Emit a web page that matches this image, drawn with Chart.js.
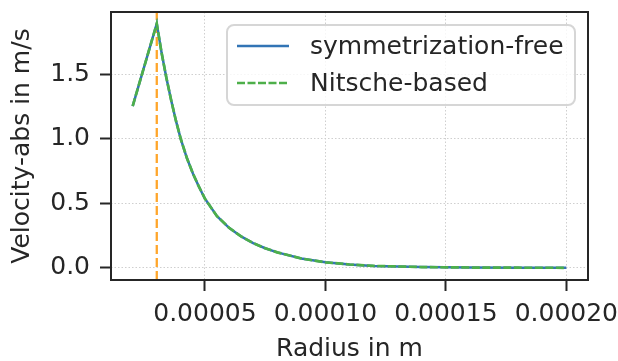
<!DOCTYPE html>
<html>

<head>
    <title>Velocity-abs vs Radius</title>
    <script src="https://cdn.jsdelivr.net/npm/chart.js"></script>
    <style>
        body {
            margin: 0;
            background: #ffffff;
        }
    </style>
</head>

<body>
    <canvas id="velocity-chart" width="618" height="361"></canvas>

    <script>
        // values
        const radius = [0.000020, 0.000030, 0.000032, 0.000034, 0.000036, 0.000038, 0.000040, 0.0000425,
            0.000045, 0.0000475, 0.000050, 0.000055, 0.000060, 0.000065, 0.000070, 0.000075, 0.000080,
            0.000090, 0.000100, 0.000110, 0.000120, 0.000140, 0.000160, 0.000180, 0.000200];
        const velSymFree = [1.252, 1.89, 1.664, 1.47, 1.295, 1.135, 0.995, 0.85,
            0.73, 0.628, 0.535, 0.40, 0.31, 0.243, 0.192, 0.152, 0.12,
            0.072, 0.043, 0.026, 0.015, 0.006, 0.0025, 0.001, 0.0005];
        const velNitsche = [1.252, 1.89, 1.664, 1.47, 1.295, 1.135, 0.995, 0.85,
            0.73, 0.628, 0.535, 0.40, 0.31, 0.243, 0.192, 0.152, 0.12,
            0.072, 0.043, 0.026, 0.015, 0.006, 0.0025, 0.001, 0.0005];
        const peakRadius = [0.00003];
        const xTicks = [0.00005, 0.00010, 0.00015, 0.00020];
        const yTicks = [0.0, 0.5, 1.0, 1.5];
        const xMin = 0.000011, xMax = 0.000209;
        const yMin = -0.094, yMax = 1.98;

        const textColor = '#262626';
        const fontFamily = "'DejaVu Sans', sans-serif";

        function toPoints(xs, ys) {
            return xs.map((x, i) => ({ x: x, y: ys[i] }));
        }

        // frame round the plot area (all four spines)
        const frame = {
            id: 'frame',
            afterDatasetsDraw(chart) {
                const { ctx, chartArea: a } = chart;
                ctx.save();
                ctx.strokeStyle = textColor;
                ctx.lineWidth = 2;
                ctx.strokeRect(a.left, a.top, a.right - a.left, a.bottom - a.top);
                ctx.restore();
            }
        };

        // matplotlib style legend box in the upper right corner
        const legendBox = {
            id: 'legendBox',
            afterDraw(chart) {
                const { ctx, chartArea: a } = chart;
                const items = chart.data.datasets.filter((d) => d.label);
                const w = 348, h = 80, r = 7;
                const x = a.right - 13 - w;
                const y = a.top + 13;
                ctx.save();
                ctx.beginPath();
                ctx.roundRect(x, y, w, h, r);
                ctx.fillStyle = 'rgba(255,255,255,0.8)';
                ctx.fill();
                ctx.lineWidth = 2;
                ctx.strokeStyle = '#d6d6d6';
                ctx.stroke();
                items.forEach((d, i) => {
                    const ly = y + 21 + i * 37;
                    ctx.beginPath();
                    ctx.setLineDash(d.borderDash || []);
                    ctx.lineWidth = d.borderWidth;
                    ctx.strokeStyle = d.borderColor;
                    ctx.moveTo(x + 10, ly);
                    ctx.lineTo(x + 62, ly);
                    ctx.stroke();
                    ctx.setLineDash([]);
                    ctx.fillStyle = textColor;
                    ctx.font = '25px ' + fontFamily;
                    ctx.textBaseline = 'middle';
                    ctx.fillText(d.label, x + 83, ly + 1);
                });
                ctx.restore();
            }
        };

        const ctx = document.getElementById('velocity-chart').getContext('2d');
        new Chart(ctx, {
            type: 'line',
            data: {
                datasets: [
                    {
                        label: 'symmetrization-free',
                        data: toPoints(radius, velSymFree),
                        borderColor: '#3274b5',
                        borderWidth: 2.5,
                        pointRadius: 0,
                        tension: 0,
                        order: 1,
                    },
                    {
                        label: 'Nitsche-based',
                        data: toPoints(radius, velNitsche),
                        borderColor: '#4daf4a',
                        borderDash: [8, 2.5],
                        borderWidth: 2.7,
                        pointRadius: 0,
                        tension: 0,
                        order: 0,
                    },
                    {
                        label: '',
                        data: [{ x: peakRadius[0], y: yMin }, { x: peakRadius[0], y: yMax }],
                        borderColor: '#ffa62b',
                        borderDash: [9, 4],
                        borderWidth: 2.3,
                        pointRadius: 0,
                        order: 2,
                    },
                ],
            },
            options: {
                responsive: false,
                animation: false,
                devicePixelRatio: 1,
                layout: {
                    padding: { top: 12, right: 30, left: 0, bottom: 0 },
                },
                scales: {
                    x: {
                        type: 'linear',
                        min: xMin,
                        max: xMax,
                        afterBuildTicks: (scale) => {
                            scale.ticks = xTicks.map((v) => ({ value: v }));
                        },
                        afterFit: (scale) => {
                            scale.height = 81;
                            scale.paddingLeft = 0;
                            scale.paddingRight = 0;
                        },
                        ticks: {
                            callback: (v) => v.toFixed(5),
                            color: textColor,
                            font: { family: fontFamily, size: 25 },
                            padding: 8,
                            autoSkip: false,
                            maxRotation: 0,
                            minRotation: 0,
                        },
                        grid: {
                            color: '#cfcfcf',
                            lineWidth: 1,
                            tickColor: textColor,
                            tickLength: 11,
                            tickWidth: 2,
                        },
                        border: { display: false, dash: [1.5, 2] },
                        title: {
                            display: true,
                            text: 'Radius in m',
                            color: textColor,
                            font: { family: fontFamily, size: 25, lineHeight: 1 },
                            padding: { top: 0, bottom: -1 },
                        },
                    },
                    y: {
                        type: 'linear',
                        min: yMin,
                        max: yMax,
                        afterBuildTicks: (scale) => {
                            scale.ticks = yTicks.map((v) => ({ value: v }));
                        },
                        afterFit: (scale) => {
                            scale.width = 111;
                            scale.paddingTop = 0;
                            scale.paddingBottom = 0;
                        },
                        ticks: {
                            callback: (v) => v.toFixed(1),
                            color: textColor,
                            font: { family: fontFamily, size: 25 },
                            padding: 10,
                        },
                        grid: {
                            color: '#cfcfcf',
                            lineWidth: 1,
                            tickColor: textColor,
                            tickLength: 11,
                            tickWidth: 2,
                        },
                        border: { display: false, dash: [1.5, 2] },
                        title: {
                            display: true,
                            text: 'Velocity-abs in m/s',
                            color: textColor,
                            font: { family: fontFamily, size: 25, lineHeight: 1 },
                            padding: { top: 10, bottom: 0 },
                        },
                    },
                },
                plugins: {
                    legend: { display: false },
                    tooltip: { enabled: false },
                },
            },
            plugins: [frame, legendBox],
        });
    </script>
</body>

</html>
